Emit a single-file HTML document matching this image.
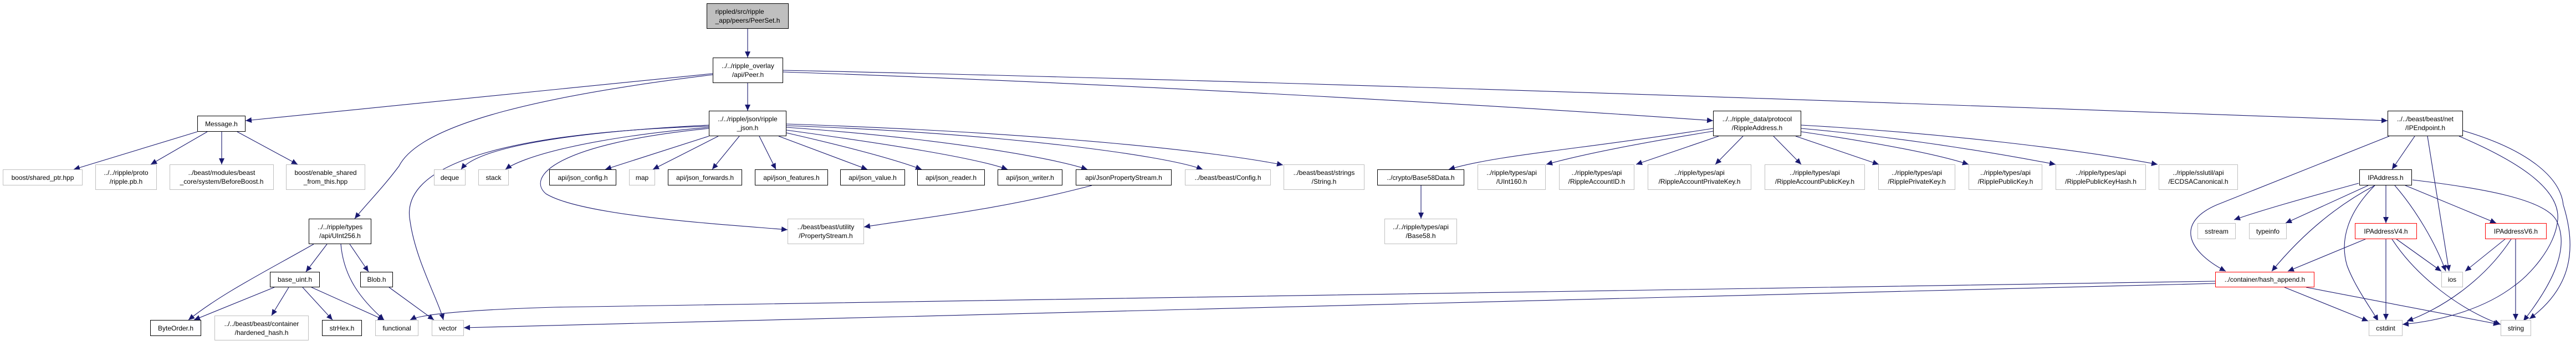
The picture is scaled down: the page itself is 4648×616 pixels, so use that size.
<!DOCTYPE html>
<html><head><meta charset="utf-8"><style>
body{margin:0;background:#fff;}
#c{position:relative;width:4648px;height:616px;overflow:hidden;background:#fff;font-family:"Liberation Sans",sans-serif;}
svg{position:absolute;left:0;top:0;}
.n{position:absolute;box-sizing:border-box;border:1.5px solid #bfbfbf;background:#fff;display:flex;align-items:center;justify-content:center;text-align:center;font-size:12px;line-height:16px;color:#000;white-space:nowrap;}
.b{border-color:#000;}
.r{border-color:#ff0000;}
.g{background:#bfbfbf;border-color:#000;}
</style></head><body><div id="c">
<svg width="4648" height="616" viewBox="0 0 4648 616">
<defs><marker id="a" markerUnits="userSpaceOnUse" markerWidth="12" markerHeight="10" refX="11" refY="5" orient="auto"><path d="M0,0 L11,5 L0,10 z" fill="#191970"/></marker></defs>
<g fill="none" stroke="#191970" stroke-width="1.1" marker-end="url(#a)">
<path d="M1349,52 L1349,104"/>
<path d="M1286,133 L443,218"/>
<path d="M1286,135 C1000,170 760,220 720,300 C690,340 660,370 640,395"/>
<path d="M1349,150 L1349,200"/>
<path d="M1413,130 C2000,150 2700,190 3091,218"/>
<path d="M1413,127 C2500,150 3800,200 4308,218"/>
<path d="M356,238 L133,306"/>
<path d="M374,238 L272,297"/>
<path d="M400,238 L400,297"/>
<path d="M428,238 L537,297"/>
<path d="M566,441 C480,490 400,530 340,578"/>
<path d="M590,441 L552,491"/>
<path d="M615,441 C620,500 650,540 693,578"/>
<path d="M631,441 L665,491"/>
<path d="M495,519 L350,578"/>
<path d="M521,519 L490,570"/>
<path d="M546,519 L600,578"/>
<path d="M562,519 L693,578"/>
<path d="M702,519 L783,578"/>
<path d="M1279,228 C900,240 720,300 740,400 C750,470 790,540 800,578"/>
<path d="M1279,226 C1000,240 860,270 832,306"/>
<path d="M1279,230 C1050,250 940,285 912,306"/>
<path d="M1279,232 C1000,260 950,320 985,350 C1050,390 1300,405 1421,415"/>
<path d="M1279,246 L1092,306"/>
<path d="M1296,246 L1178,306"/>
<path d="M1334,246 L1285,306"/>
<path d="M1370,246 L1400,306"/>
<path d="M1405,246 L1565,306"/>
<path d="M1419,240 C1550,270 1620,290 1663,306"/>
<path d="M1419,235 C1600,260 1760,285 1818,306"/>
<path d="M1419,230 C1700,250 1900,285 1962,306"/>
<path d="M1419,227 C1800,240 2100,280 2170,306"/>
<path d="M1419,224 C1900,240 2200,275 2315,298"/>
<path d="M1970,335 C1800,380 1650,395 1559,410"/>
<path d="M3091,232 C2850,270 2700,280 2614,306"/>
<path d="M3091,237 C2950,260 2850,280 2790,297"/>
<path d="M3101,246 L2952,297"/>
<path d="M3145,246 L3095,297"/>
<path d="M3200,246 L3250,297"/>
<path d="M3240,246 L3390,297"/>
<path d="M3250,238 C3400,260 3500,280 3552,297"/>
<path d="M3250,232 C3450,250 3620,280 3709,297"/>
<path d="M3250,226 C3500,240 3750,270 3893,297"/>
<path d="M2564,335 L2564,395"/>
<path d="M3997,508 L1000,555 Q770,562 740,578"/>
<path d="M3997,512 L837,592"/>
<path d="M4311,246 L4000,370 C3930,400 3940,450 4016,490"/>
<path d="M4357,246 L4316,306"/>
<path d="M4380,246 L4419,490"/>
<path d="M4437,246 C4540,290 4620,340 4615,397 C4610,450 4560,500 4537,516 C4480,560 4400,580 4335,586"/>
<path d="M4444,236 C4560,270 4620,320 4625,370 C4650,450 4640,520 4564,576"/>
<path d="M4256,331 C4150,360 4080,380 4031,397"/>
<path d="M4273,335 L4124,403"/>
<path d="M4285,335 C4200,380 4140,440 4099,490"/>
<path d="M4285,335 C4240,380 4220,430 4235,480 C4250,520 4280,560 4291,580"/>
<path d="M4305,335 L4305,403"/>
<path d="M4321,335 C4360,380 4395,440 4413,490"/>
<path d="M4340,335 L4504,403"/>
<path d="M4353,325 C4480,340 4590,360 4612,397 C4640,450 4600,520 4553,580"/>
<path d="M4268,432 L4128,490"/>
<path d="M4305,432 L4305,578"/>
<path d="M4324,432 L4405,490"/>
<path d="M4316,432 C4360,500 4440,560 4512,586"/>
<path d="M4520,432 L4448,490"/>
<path d="M4531,432 C4480,510 4400,560 4343,580"/>
<path d="M4539,432 L4539,578"/>
<path d="M4122,519 L4273,580"/>
<path d="M4161,519 L4510,586"/>
</g></svg>
<div class="n g" style="left:1275px;top:6px;width:148px;height:46px;text-align:left;">rippled/src/ripple<br>_app/peers/PeerSet.h</div>
<div class="n b" style="left:1286px;top:104px;width:127px;height:46px;">../../ripple_overlay<br>/api/Peer.h</div>
<div class="n b" style="left:1279px;top:200px;width:140px;height:46px;">../../ripple/json/ripple<br>_json.h</div>
<div class="n b" style="left:356px;top:209px;width:87px;height:29px;">Message.h</div>
<div class="n" style="left:5px;top:306px;width:144px;height:29px;">boost/shared_ptr.hpp</div>
<div class="n" style="left:172px;top:297px;width:111px;height:46px;">../../ripple/proto<br>/ripple.pb.h</div>
<div class="n" style="left:306px;top:297px;width:188px;height:46px;">../beast/modules/beast<br>_core/system/BeforeBoost.h</div>
<div class="n" style="left:516px;top:297px;width:143px;height:46px;">boost/enable_shared<br>_from_this.hpp</div>
<div class="n b" style="left:557px;top:395px;width:113px;height:46px;">../../ripple/types<br>/api/UInt256.h</div>
<div class="n b" style="left:487px;top:491px;width:90px;height:28px;">base_uint.h</div>
<div class="n b" style="left:650px;top:491px;width:59px;height:28px;">Blob.h</div>
<div class="n b" style="left:271px;top:578px;width:92px;height:29px;">ByteOrder.h</div>
<div class="n" style="left:387px;top:570px;width:170px;height:45px;">../../beast/beast/container<br>/hardened_hash.h</div>
<div class="n b" style="left:581px;top:578px;width:72px;height:29px;">strHex.h</div>
<div class="n" style="left:677px;top:578px;width:78px;height:29px;">functional</div>
<div class="n" style="left:779px;top:578px;width:58px;height:29px;">vector</div>
<div class="n" style="left:783px;top:306px;width:57px;height:29px;">deque</div>
<div class="n" style="left:863px;top:306px;width:55px;height:29px;">stack</div>
<div class="n b" style="left:991px;top:306px;width:121px;height:29px;">api/json_config.h</div>
<div class="n" style="left:1135px;top:306px;width:47px;height:29px;">map</div>
<div class="n b" style="left:1205px;top:306px;width:134px;height:29px;">api/json_forwards.h</div>
<div class="n b" style="left:1362px;top:306px;width:132px;height:29px;">api/json_features.h</div>
<div class="n b" style="left:1516px;top:306px;width:117px;height:29px;">api/json_value.h</div>
<div class="n b" style="left:1655px;top:306px;width:122px;height:29px;">api/json_reader.h</div>
<div class="n b" style="left:1800px;top:306px;width:117px;height:29px;">api/json_writer.h</div>
<div class="n b" style="left:1941px;top:306px;width:173px;height:29px;">api/JsonPropertyStream.h</div>
<div class="n" style="left:2138px;top:306px;width:155px;height:29px;">../beast/beast/Config.h</div>
<div class="n" style="left:2316px;top:297px;width:146px;height:46px;">../beast/beast/strings<br>/String.h</div>
<div class="n" style="left:1421px;top:395px;width:138px;height:46px;">../beast/beast/utility<br>/PropertyStream.h</div>
<div class="n b" style="left:3091px;top:200px;width:159px;height:46px;">../../ripple_data/protocol<br>/RippleAddress.h</div>
<div class="n b" style="left:2485px;top:306px;width:157px;height:29px;">../crypto/Base58Data.h</div>
<div class="n" style="left:2498px;top:395px;width:131px;height:46px;">../../ripple/types/api<br>/Base58.h</div>
<div class="n" style="left:2666px;top:297px;width:123px;height:46px;">../ripple/types/api<br>/UInt160.h</div>
<div class="n" style="left:2813px;top:297px;width:136px;height:46px;">../ripple/types/api<br>/RippleAccountID.h</div>
<div class="n" style="left:2973px;top:297px;width:187px;height:46px;">../ripple/types/api<br>/RippleAccountPrivateKey.h</div>
<div class="n" style="left:3184px;top:297px;width:181px;height:46px;">../ripple/types/api<br>/RippleAccountPublicKey.h</div>
<div class="n" style="left:3389px;top:297px;width:139px;height:46px;">../ripple/types/api<br>/RipplePrivateKey.h</div>
<div class="n" style="left:3552px;top:297px;width:133px;height:46px;">../ripple/types/api<br>/RipplePublicKey.h</div>
<div class="n" style="left:3709px;top:297px;width:163px;height:46px;">../ripple/types/api<br>/RipplePublicKeyHash.h</div>
<div class="n" style="left:3895px;top:297px;width:143px;height:46px;">../ripple/sslutil/api<br>/ECDSACanonical.h</div>
<div class="n b" style="left:4308px;top:200px;width:136px;height:46px;">../../beast/beast/net<br>/IPEndpoint.h</div>
<div class="n b" style="left:4257px;top:306px;width:95px;height:29px;">IPAddress.h</div>
<div class="n" style="left:3965px;top:403px;width:69px;height:29px;">sstream</div>
<div class="n" style="left:4058px;top:403px;width:68px;height:29px;">typeinfo</div>
<div class="n r" style="left:4249px;top:403px;width:112px;height:29px;">IPAddressV4.h</div>
<div class="n r" style="left:4484px;top:403px;width:111px;height:29px;">IPAddressV6.h</div>
<div class="n r" style="left:3997px;top:491px;width:179px;height:28px;">../container/hash_append.h</div>
<div class="n" style="left:4405px;top:491px;width:39px;height:28px;">ios</div>
<div class="n" style="left:4274px;top:578px;width:61px;height:29px;">cstdint</div>
<div class="n" style="left:4512px;top:578px;width:55px;height:29px;">string</div>
</div></body></html>
